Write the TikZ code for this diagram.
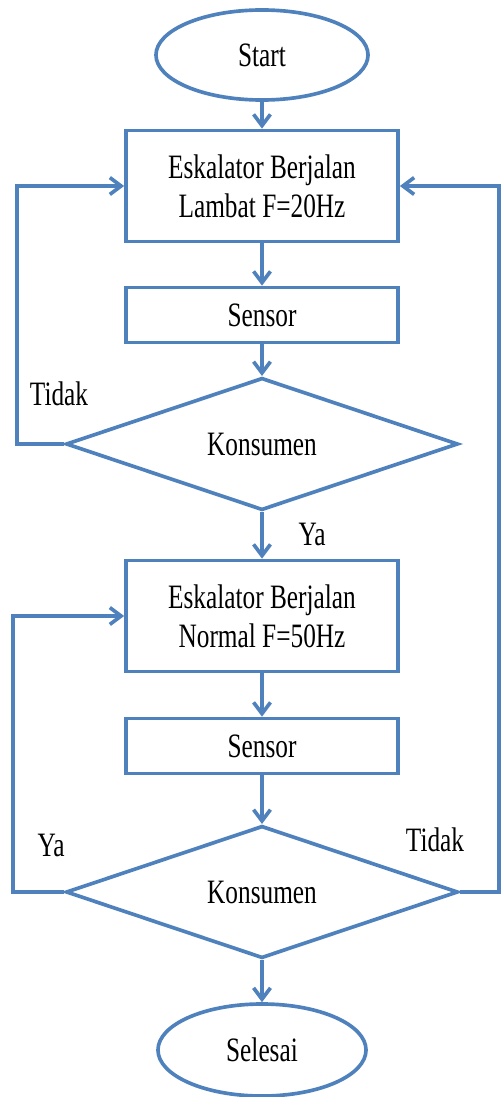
\documentclass[tikz,border=0pt]{standalone}
\usepackage{fontspec}
\setmainfont{Liberation Serif}
\usetikzlibrary{shapes.geometric,arrows.meta}
\definecolor{garis}{RGB}{79,129,189}
\newcommand{\regang}[1]{\scalebox{1}[1.35]{#1}}
\begin{document}
\begin{tikzpicture}[x=0.025cm, y=-0.025cm,
    teks/.style={font=\fontsize{18}{28}\selectfont},
    proses/.style={teks, draw=garis, line width=2.6pt, minimum width=6.8cm, minimum height=2.775cm, align=center},
    sensor/.style={proses, minimum height=1.375cm},
    terminal/.style={teks, ellipse, draw=garis, line width=2.6pt, minimum width=5.3cm, minimum height=2.25cm},
    keputusan/.style={teks, diamond, draw=garis, line width=2.6pt, inner sep=0pt, minimum width=9.8cm, minimum height=3.3cm},
    arrow/.style={-{Straight Barb[length=8pt, width=12pt, line width=2.6pt]}, draw=garis, line width=2.6pt}
]
    \useasboundingbox (0,0) rectangle (502,1097);

    % Alur utama
    \node[terminal] (start) at (262,55) {\regang{Start}};
    \node[proses] (lambat) at (262,186) {\regang{Eskalator Berjalan}\\\regang{Lambat F=20Hz}};
    \node[sensor] (sensA) at (262,315) {\regang{Sensor}};
    \node[keputusan] (cekA) at (262,444) {\regang{Konsumen}};
    \node[proses] (normal) at (262,616) {\regang{Eskalator Berjalan}\\\regang{Normal F=50Hz}};
    \node[sensor] (sensB) at (262,746) {\regang{Sensor}};
    \node[keputusan] (cekB) at (262,892) {\regang{Konsumen}};
    \node[terminal, minimum width=5.2cm, minimum height=2.3cm] (selesai) at (262,1050) {\regang{Selesai}};

    % Titik belok
    \coordinate (kiriA) at (17,444);
    \coordinate (kiriB) at (13,892);
    \coordinate (kananB) at (499,892);

    % Panah
    \draw[arrow] (start) -- (lambat);
    \draw[arrow] (lambat) -- (sensA);
    \draw[arrow] (sensA) -- (cekA);
    \draw[arrow] (cekA) -- (normal);
    \draw[arrow] (normal) -- (sensB);
    \draw[arrow] (sensB) -- (cekB);
    \draw[arrow] (cekB) -- (selesai);
    \draw[arrow] (cekA.west) -- (kiriA) |- (lambat.west);
    \draw[arrow] (cekB.west) -- (kiriB) |- (normal.west);
    \draw[arrow] (cekB.east) -- (kananB) |- (lambat.east);

    % Label
    \node[teks] (tidakA) at (59,394) {\regang{Tidak}};
    \node[teks] (yaA) at (312,534) {\regang{Ya}};
    \node[teks] (yaB) at (51,845) {\regang{Ya}};
    \node[teks] (tidakB) at (435,840) {\regang{Tidak}};
\end{tikzpicture}
\end{document}
